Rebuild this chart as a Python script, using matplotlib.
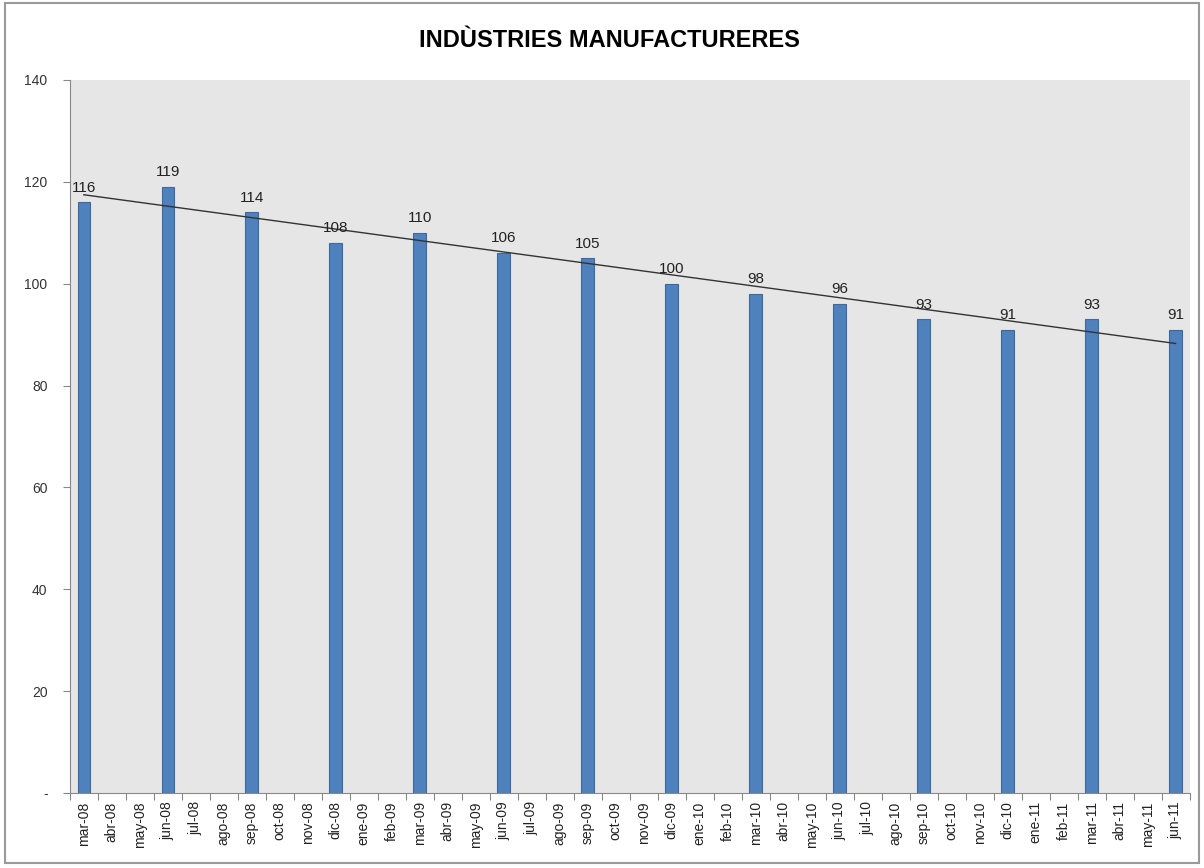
import numpy as np
import matplotlib
matplotlib.use("Agg")
import matplotlib.pyplot as plt
from matplotlib.patches import Rectangle

# monthly categories, values only at quarter months
months = ["mar", "abr", "may", "jun", "jul", "ago", "sep", "oct", "nov", "dic", "ene", "feb"]
years = ["08", "09", "10", "11"]
labels = []
yi = 0
for k in range(40):
    m = months[k % 12]
    if m == "ene":
        yi += 1
    labels.append(m + "-" + years[yi])

quarter_labels = ["mar-08", "jun-08", "sep-08", "dic-08", "mar-09", "jun-09", "sep-09",
                  "dic-09", "mar-10", "jun-10", "sep-10", "dic-10", "mar-11", "jun-11"]
values = [116, 119, 114, 108, 110, 106, 105, 100, 98, 96, 93, 91, 93, 91]

plt.rcParams['font.family'] = ['Liberation Sans', 'DejaVu Sans']

fig = plt.figure(figsize=(12.04, 8.68), dpi=100)
fig.patches.append(Rectangle((0.004, 0.006), 0.992, 0.99, transform=fig.transFigure,
                             fill=False, edgecolor="#9a9a9a", linewidth=1.5))
ax = fig.add_axes([0.058, 0.0864, 0.930, 0.8215])
ax.set_facecolor("#e6e6e6")

xpos = [labels.index(q) for q in quarter_labels]
ax.bar(xpos, values, width=0.45, color="#4f81bd", edgecolor="#3d6a9e", linewidth=0.8, zorder=2)
for x, v in zip(xpos, values):
    ax.text(x, v + 1.5, str(v), ha="center", va="bottom", fontsize=11, color="#222222", zorder=4)

# linear trend line
coef = np.polyfit(xpos, values, 1)
tx = np.array([xpos[0], xpos[-1]])
ax.plot(tx, np.polyval(coef, tx), color="#333333", linewidth=1, zorder=3)

ax.set_xlim(-0.5, 39.5)
ax.set_ylim(0, 140)
ax.set_yticks(range(0, 141, 20))
ax.set_yticklabels(["-"] + [str(v) for v in range(20, 141, 20)], fontsize=10, color="#333333")

ax.set_xticks(np.arange(-0.5, 40, 1))
ax.set_xticklabels([])
ax.set_xticks(range(40), minor=True)
ax.set_xticklabels(labels, minor=True, rotation=90, fontsize=10, color="#222222")
ax.tick_params(axis="x", which="minor", length=0, pad=6)
ax.tick_params(axis="x", which="major", length=5, color="#888888")
ax.tick_params(axis="y", length=5, color="#888888", pad=11)

for s in ["top", "right"]:
    ax.spines[s].set_visible(False)
for s in ["left", "bottom"]:
    ax.spines[s].set_color("#888888")

fig.text(0.506, 0.953, "INDÙSTRIES MANUFACTURERES", ha="center", va="center",
         fontsize=17, fontweight="bold")

fig.savefig("out.png", dpi=100)
